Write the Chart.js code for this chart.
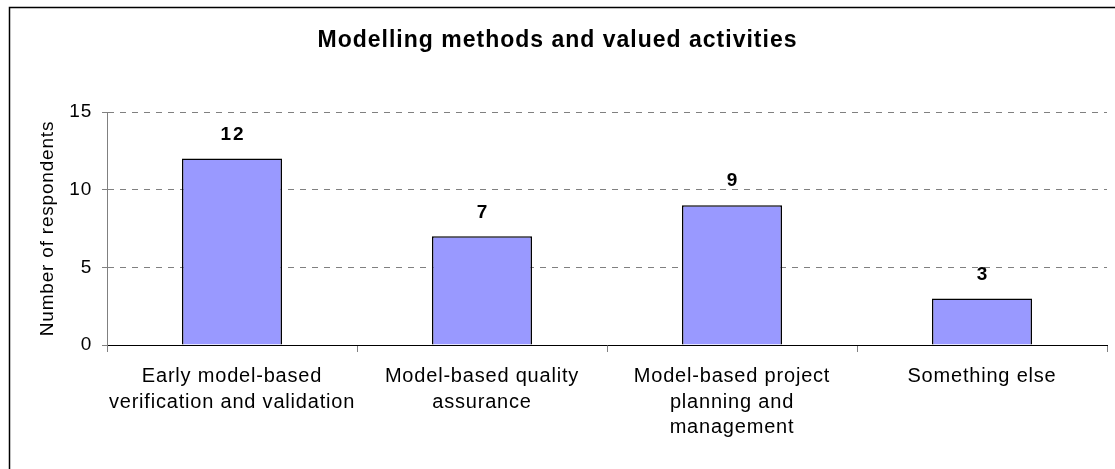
<!DOCTYPE html>
<html>
<head>
<meta charset="utf-8">
<script src="https://cdn.jsdelivr.net/npm/chart.js@4/dist/chart.umd.min.js"></script>
<style>
  html, body { margin: 0; padding: 0; background: #fff; }
  #wrap { width: 1115px; height: 469px; }
</style>
</head>
<body>
<div id="wrap"><canvas id="chart" width="1115" height="469"></canvas></div>
<script>
// data
const categories = [
    ['Early model-based', 'verification and validation'],
    ['Model-based quality', 'assurance'],
    ['Model-based project', 'planning and', 'management'],
    ['Something else']
];
const respondents = [12, 7, 9, 3];
const yTicks = [0, 5, 10, 15];

const titleText = 'Modelling methods and valued activities';
const yTitle = 'Number of respondents';

const fontFamily = 'Arial, "Liberation Sans", sans-serif';

// spacing between letters, the picture's text runs a bit wide
const spacingPlugin = {
    id: 'spacing',
    beforeLayout(chart) { chart.ctx.letterSpacing = '0.8px'; },
    beforeDraw(chart) { chart.ctx.letterSpacing = '0.8px'; }
};

const framePlugin = {
    id: 'frame',
    afterDraw(chart) {
        const c = chart.ctx;
        c.save();
        // outer frame, cut off at right and bottom
        c.strokeStyle = '#000';
        c.lineWidth = 1.5;
        c.strokeRect(9.5, 7.5, 2000, 2000);
        // title
        c.letterSpacing = '1px';
        c.fillStyle = '#000';
        c.font = 'bold 23px ' + fontFamily;
        c.textAlign = 'center';
        c.textBaseline = 'middle';
        c.fillText(titleText, chart.width / 2, 40.5);
        c.restore();
    }
};

const valueLabels = {
    id: 'valueLabels',
    afterDatasetsDraw(chart) {
        const c = chart.ctx;
        const meta = chart.getDatasetMeta(0);
        c.save();
        c.letterSpacing = '2px';
        c.fillStyle = '#000';
        c.font = 'bold 19px ' + fontFamily;
        c.textAlign = 'center';
        c.textBaseline = 'middle';
        meta.data.forEach((bar, i) => {
            c.fillText(String(respondents[i]), bar.x + 1, bar.y - 24);
        });
        c.restore();
    }
};

new Chart(document.getElementById('chart').getContext('2d'), {
    type: 'bar',
    data: {
        labels: categories,
        datasets: [{
            data: respondents,
            backgroundColor: '#9999FF',
            borderColor: '#000',
            borderWidth: 1.5,
            barPercentage: 0.4,
            categoryPercentage: 1.0
        }]
    },
    options: {
        responsive: false,
        animation: false,
        devicePixelRatio: 1,
        layout: { padding: { top: 112, right: 8, left: 0, bottom: 0 } },
        plugins: {
            legend: { display: false },
            title: { display: false },
            tooltip: { enabled: false }
        },
        scales: {
            x: {
                afterFit(scale) { scale.height = 124; },
                grid: {
                    drawOnChartArea: false,
                    drawTicks: true,
                    tickLength: 7,
                    tickColor: '#808080',
                    offset: true
                },
                border: { display: true, color: '#000', width: 1 },
                ticks: {
                    color: '#000',
                    padding: 12,
                    maxRotation: 0,
                    autoSkip: false,
                    font: { family: fontFamily, size: 20, lineHeight: '25.5px' }
                }
            },
            y: {
                min: 0,
                max: 15,
                afterFit(scale) { scale.width = 107; },
                afterBuildTicks(scale) { scale.ticks = yTicks.map(v => ({ value: v })); },
                grid: {
                    color: ctx => (ctx.tick && ctx.tick.value === 0) ? 'rgba(0,0,0,0)' : '#808080',
                    lineWidth: 1,
                    tickLength: 5,
                    tickColor: '#808080',
                    tickBorderDash: []
                },
                border: { display: true, color: '#808080', width: 1, dash: [6, 6] },
                ticks: {
                    color: '#000',
                    padding: 10,
                    font: { family: fontFamily, size: 19 }
                },
                title: {
                    display: true,
                    text: yTitle,
                    color: '#000',
                    padding: { top: 36, bottom: 0 },
                    font: { family: fontFamily, size: 19 }
                }
            }
        }
    },
    plugins: [spacingPlugin, valueLabels, framePlugin]
});
</script>
</body>
</html>
